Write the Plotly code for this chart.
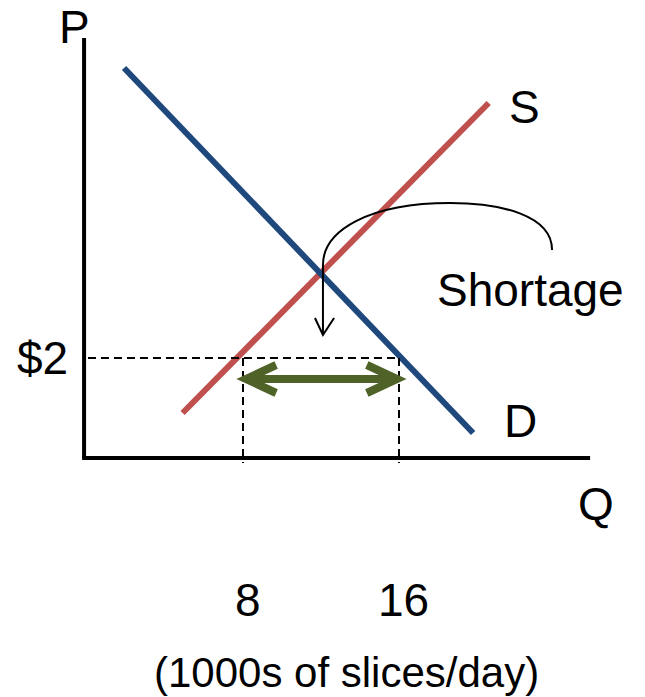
import plotly.graph_objects as go

# ---- data ----
supply_q = [4.9, 20.6]
supply_p = [0.9, 7.1]
demand_q = [1.9, 19.8]
demand_p = [7.8, 0.5]
quantity_ticks = [8, 16]
tick_labels = ["8", "16"]
price_level = 2
price_label = "$2"
curve_labels = ["S", "D"]
axis_titles = ["P", "Q"]
unit_label = "(1000s of slices/day)"
note_label = "Shortage"

FONT = "Liberation Sans, Arial, sans-serif"
BLUE = "#1F497D"
RED = "#C0504D"
GREEN = "#4F6228"

q_lo, q_hi = quantity_ticks

fig = go.Figure()
fig.add_trace(go.Scatter(x=supply_q, y=supply_p, mode="lines",
                         line=dict(color=RED, width=6), hoverinfo="skip"))
fig.add_trace(go.Scatter(x=demand_q, y=demand_p, mode="lines",
                         line=dict(color=BLUE, width=6), hoverinfo="skip"))

shapes = []
# axes
shapes.append(dict(type="line", xref="x", yref="y", x0=-0.15, y0=-0.0, x1=-0.15, y1=8.4,
                   line=dict(color="black", width=4)))
shapes.append(dict(type="line", xref="x", yref="y", x0=-0.25, y0=0, x1=25.8, y1=0,
                   line=dict(color="black", width=4)))
# dashed guides
dash = "8px,5px"
shapes.append(dict(type="line", xref="x", yref="y", x0=0.05, y0=price_level, x1=q_hi, y1=price_level,
                   line=dict(color="black", width=2, dash=dash)))
for q in quantity_ticks:
    shapes.append(dict(type="line", xref="x", yref="y", x0=q, y0=price_level, x1=q, y1=-0.1,
                       line=dict(color="black", width=2, dash=dash)))
# green double arrow (shortage)
ay = price_level - 0.42
l0, r0 = q_lo + 0.15, q_hi - 0.1
dx, dy = 1.55, 0.28
shapes.append(dict(type="line", xref="x", yref="y", x0=l0 + 0.3, y0=ay, x1=r0 - 0.3, y1=ay,
                   line=dict(color=GREEN, width=8)))
shapes.append(dict(type="path", xref="x", yref="y",
                   path=f"M {l0+dx},{ay+dy} L {l0},{ay} L {l0+dx},{ay-dy}",
                   line=dict(color=GREEN, width=8)))
shapes.append(dict(type="path", xref="x", yref="y",
                   path=f"M {r0-dx},{ay+dy} L {r0},{ay} L {r0-dx},{ay-dy}",
                   line=dict(color=GREEN, width=8)))
# curved callout arrow
shapes.append(dict(type="path", xref="x", yref="y",
                   path=("M 23.85,4.16 C 23.85,4.86 21.18,5.10 18.62,5.10 "
                         "C 14.51,5.10 12.10,4.56 12.10,3.86 L 12.10,2.46"),
                   line=dict(color="black", width=2)))
shapes.append(dict(type="path", xref="x", yref="y",
                   path="M 11.69,2.80 L 12.10,2.46 L 12.67,2.80",
                   line=dict(color="black", width=2)))

ann = []
def txt(x, y, s, size=46, xanchor="center"):
    ann.append(dict(x=x, y=y, xref="x", yref="y", text=s, showarrow=False,
                    xanchor=xanchor, yanchor="middle",
                    font=dict(family=FONT, size=size, color="black")))

txt(-0.65, 8.63, axis_titles[0])
txt(26.1, -0.92, axis_titles[1])
txt(22.45, 7.02, curve_labels[0])
txt(22.25, 0.74, curve_labels[1])
txt(-0.87, price_level, price_label, xanchor="right")
txt(22.75, 3.36, note_label)
for q, lab in zip(quantity_ticks, tick_labels):
    txt(q + 0.25, -2.84, lab)
txt(13.3, -4.28, unit_label, size=42)

fig.update_layout(
    width=637, height=689,
    margin=dict(l=0, r=0, t=0, b=0),
    paper_bgcolor="white", plot_bgcolor="white",
    showlegend=False,
    xaxis=dict(range=[-4.051, 28.615], visible=False, fixedrange=True),
    yaxis=dict(range=[-4.78, 9.0], visible=False, fixedrange=True),
    shapes=shapes, annotations=ann,
)
fig.write_html("out.html")
